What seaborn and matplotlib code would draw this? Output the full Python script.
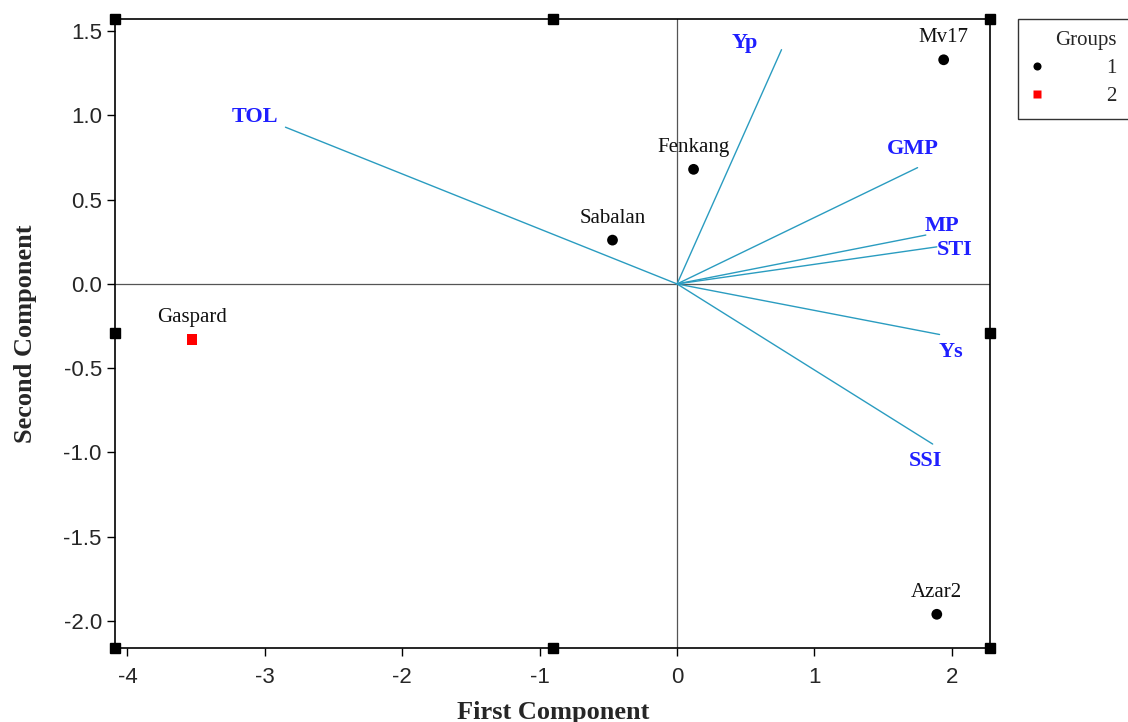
import pandas as pd
import matplotlib
matplotlib.use("Agg")
import matplotlib.pyplot as plt
import seaborn as sns

# =========================
# 1. DATA
# =========================
genotypes = ["Mv17", "Fenkang", "Sabalan", "Gaspard", "Azar2"]
pc1_scores = [1.94, 0.12, -0.47, -3.53, 1.89]
pc2_scores = [1.33, 0.68, 0.26, -0.33, -1.96]
groups = [1, 1, 1, 2, 1]

indices = ["Yp", "TOL", "GMP", "MP", "STI", "Ys", "SSI"]
load_pc1 = [0.76, -2.85, 1.75, 1.81, 1.89, 1.91, 1.86]
load_pc2 = [1.39, 0.93, 0.69, 0.29, 0.22, -0.30, -0.95]

x_ticks = [-4, -3, -2, -1, 0, 1, 2]
y_ticks = [-2.0, -1.5, -1.0, -0.5, 0.0, 0.5, 1.0, 1.5]

df = pd.DataFrame({"name": genotypes, "PC1": pc1_scores, "PC2": pc2_scores, "Groups": groups})

# label offsets (pixels) for the blue vector labels
lab_off = {"Yp": (-37, 7), "TOL": (-31, 10), "GMP": (-5, 19), "MP": (16, 9),
           "STI": (18, -3), "Ys": (11, -17), "SSI": (-7, -17)}

# =========================
# 2. PLOT
# =========================
sns.set_style("ticks")
plt.rcParams["font.family"] = ["Liberation Serif", "DejaVu Serif"]
plt.rcParams["axes.unicode_minus"] = False

fig = plt.figure(figsize=(11.28, 7.22), dpi=100)
ax = fig.add_axes([0.102, 0.1025, 0.776, 0.8712])

ax.axhline(0, color="#555555", lw=0.9, zorder=1)
ax.axvline(0, color="#555555", lw=0.9, zorder=1)

vec_col = "#2a9cc0"
for nm, vx, vy in zip(indices, load_pc1, load_pc2):
    ax.plot([0, vx], [0, vy], color=vec_col, lw=1.0, zorder=2)
    dx, dy = lab_off[nm]
    ax.annotate(nm, (vx, vy), xytext=(dx, dy), textcoords="offset pixels",
                ha="center", va="center", color="#1f1fff", fontweight="bold",
                fontsize=16)

sns.scatterplot(data=df, x="PC1", y="PC2", hue="Groups", style="Groups",
                palette={1: "black", 2: "red"}, markers={1: "o", 2: "s"},
                s=60, edgecolor="none", ax=ax, zorder=3)

for nm, px, py in zip(genotypes, pc1_scores, pc2_scores):
    ax.annotate(nm, (px, py), xytext=(0, 22), textcoords="offset pixels",
                ha="center", va="center", fontsize=15, color="#111111")

ax.set_xlim(-4.09, 2.28)
ax.set_ylim(-2.16, 1.572)
ax.set_xticks(x_ticks)
ax.set_xticklabels([str(t) for t in x_ticks], family=["Liberation Sans", "DejaVu Sans"])
ax.set_yticks(y_ticks)
ax.set_yticklabels([f"{t:.1f}" for t in y_ticks], family=["Liberation Sans", "DejaVu Sans"])
ax.tick_params(labelsize=16, length=6, width=1, direction="out", color="black")
ax.tick_params(axis="x", pad=8)
for sp in ax.spines.values():
    sp.set_color("black")
    sp.set_linewidth(1.2)

ax.set_xlabel("First Component", fontsize=19, fontweight="bold", labelpad=9)
ax.set_ylabel("Second Component", fontsize=19, fontweight="bold", labelpad=19)

# selection handles around the frame
for fx, fy in [(0, 1), (0.5, 1), (1, 1), (0, 0.5), (1, 0.5), (0, 0), (0.5, 0), (1, 0)]:
    ax.plot(fx, fy, marker="s", ms=7, color="black", transform=ax.transAxes,
            clip_on=False, zorder=5)

leg = ax.legend(title="Groups", loc="upper left", bbox_to_anchor=(1.032, 1.0),
                frameon=True, fancybox=False, edgecolor="black", fontsize=15,
                title_fontsize=15, handlelength=0.6, handletextpad=3.0,
                borderaxespad=0, labelspacing=0.4, markerscale=0.75,
                borderpad=0.6)
leg.get_frame().set_linewidth(1.0)
leg._legend_box.align = "right"

fig.savefig("out.png", dpi=100)
